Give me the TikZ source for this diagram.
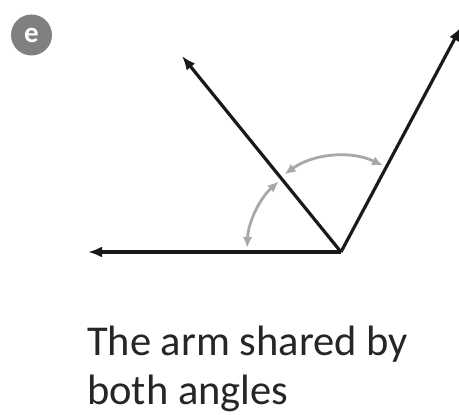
\documentclass[tikz,border=0pt]{standalone}
\usepackage{fontspec}
\setmainfont{Carlito}
\usetikzlibrary{arrows.meta}
\definecolor{armgray}{RGB}{168,168,170}
\definecolor{badgegray}{RGB}{128,128,130}
\definecolor{textdark}{RGB}{38,38,38}
\tikzset{
  arm/.style={line width=3.2pt, black!90, -{Latex[length=14pt,width=11pt]}},
  anglearc/.style={line width=2.8pt, armgray, {Latex[length=11pt,width=9.5pt]}-{Latex[length=11pt,width=9.5pt]}},
  caption/.style={anchor=base west, inner sep=0pt, text=textdark, font=\fontsize{42.5}{49}\selectfont},
  badge/.style={circle, fill=badgegray, minimum size=41pt, inner sep=0pt, text=white, font=\bfseries\fontsize{29}{29}\selectfont}
}
\begin{document}
\begin{tikzpicture}[x=1pt,y=1pt]
\useasboundingbox (0,0) rectangle (459,415);
\coordinate (O) at (341,163);
\coordinate (L) at (88,163);
\coordinate (M) at (182,359);
\coordinate (R) at (461,388);
\draw[arm] (O) -- (L);
\draw[arm] (O) -- (M);
\draw[arm] (O) -- (R);
\draw[anglearc] ([shift={(177.5:94)}]O) arc[start angle=177.5, end angle=131.5, radius=94];
\draw[anglearc] ([shift={(126:96)}]O) arc[start angle=126, end angle=64, radius=96];
\node[badge] (b) at (31.5,380) {e};
\node[caption] (t1) at (87,59) {The arm shared by};
\node[caption] (t2) at (87,10) {both angles};
\end{tikzpicture}
\end{document}
